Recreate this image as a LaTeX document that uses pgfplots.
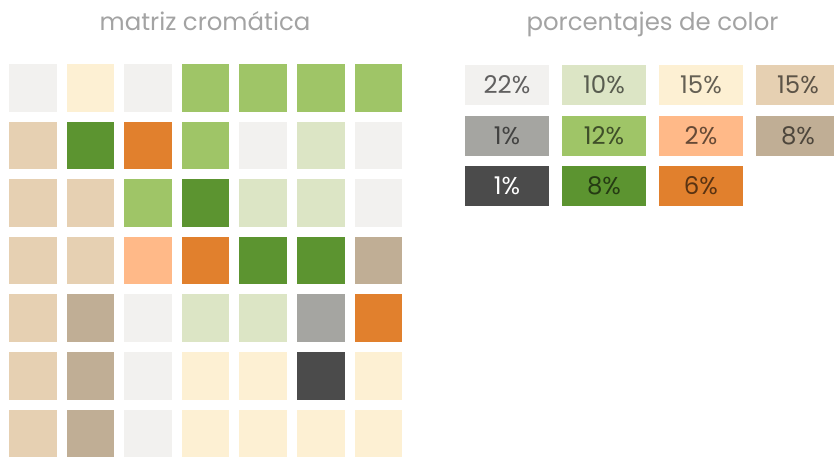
\documentclass[border=0pt]{standalone}
\usepackage{pgfplots}
\pgfplotsset{compat=1.18}
\usepackage{fontspec}
\setmainfont{Poppins}
\definecolor{cGr}{HTML}{F2F1EF}
\definecolor{cCr}{HTML}{FDF0D3}
\definecolor{cLg}{HTML}{9FC567}
\definecolor{cDg}{HTML}{5C9430}
\definecolor{cOr}{HTML}{E1802D}
\definecolor{cTn}{HTML}{E6D0B2}
\definecolor{cPg}{HTML}{DCE5C5}
\definecolor{cPe}{HTML}{FFB988}
\definecolor{cTp}{HTML}{C0AE95}
\definecolor{cMg}{HTML}{A5A5A1}
\definecolor{cDk}{HTML}{4B4B4B}
\definecolor{titlegray}{HTML}{A3A3A3}
\colorlet{tGr}{cGr!40!black}
\colorlet{tCr}{cCr!40!black}
\colorlet{tLg}{cLg!40!black}
\colorlet{tDg}{cDg!40!black}
\colorlet{tOr}{cOr!40!black}
\colorlet{tTn}{cTn!40!black}
\colorlet{tPg}{cPg!40!black}
\colorlet{tPe}{cPe!40!black}
\colorlet{tTp}{cTp!40!black}
\colorlet{tMg}{cMg!40!black}
\colorlet{tDk}{white}
\begin{document}
\begin{tikzpicture}
\path[use as bounding box] (0,0) rectangle (834bp,-457bp);
\node[anchor=base, text=titlegray, font=\fontsize{24.5}{28}\selectfont] at (205bp,-30.5bp) {matriz cromática};
\node[anchor=base, text=titlegray, font=\fontsize{24.5}{28}\selectfont] at (652.5bp,-30.5bp) {porcentajes de color};
\begin{axis}[at={(3.7bp,-58.7bp)}, anchor=north west, scale only axis,
  width=403.2bp, height=403.2bp, xmin=-0.5, xmax=6.5, ymin=-0.5, ymax=6.5,
  y dir=reverse, hide axis, clip=false]
\addplot[scatter, only marks, mark=square*, mark size=23.3bp,
  point meta=explicit symbolic,
  scatter/classes={
    Gr={mark=square*,cGr}, Cr={mark=square*,cCr}, Lg={mark=square*,cLg},
    Dg={mark=square*,cDg}, Or={mark=square*,cOr}, Tn={mark=square*,cTn},
    Pg={mark=square*,cPg}, Pe={mark=square*,cPe}, Tp={mark=square*,cTp},
    Mg={mark=square*,cMg}, Dk={mark=square*,cDk}}]
table[meta=c] {
x y c
0 0 Gr
1 0 Cr
2 0 Gr
3 0 Lg
4 0 Lg
5 0 Lg
6 0 Lg
0 1 Tn
1 1 Dg
2 1 Or
3 1 Lg
4 1 Gr
5 1 Pg
6 1 Gr
0 2 Tn
1 2 Tn
2 2 Lg
3 2 Dg
4 2 Pg
5 2 Pg
6 2 Gr
0 3 Tn
1 3 Tn
2 3 Pe
3 3 Or
4 3 Dg
5 3 Dg
6 3 Tp
0 4 Tn
1 4 Tp
2 4 Gr
3 4 Pg
4 4 Pg
5 4 Mg
6 4 Or
0 5 Tn
1 5 Tp
2 5 Gr
3 5 Cr
4 5 Cr
5 5 Dk
6 5 Cr
0 6 Tn
1 6 Tp
2 6 Gr
3 6 Cr
4 6 Cr
5 6 Cr
6 6 Cr
};
\end{axis}
\begin{axis}[at={(458.5bp,-59.75bp)}, anchor=north west, scale only axis,
  width=388bp, height=151.5bp, xmin=-0.5, xmax=3.5, ymin=-0.5, ymax=2.5,
  y dir=reverse, hide axis, clip=false]
\addplot[only marks, mark=none,
  visualization depends on={value \thisrow{c}\as\cc},
  visualization depends on={value \thisrow{t}\as\tc},
  visualization depends on={value \thisrow{p}\as\pp},
  nodes near coords={\pp\%},
  nodes near coords style={anchor=center, fill=\cc, text=\tc,
    minimum width=84bp, minimum height=40bp, inner sep=0pt,
    font=\fontsize{24.5}{28}\selectfont}]
table {
x y p c t
0 0 22 cGr tGr
1 0 10 cPg tPg
2 0 15 cCr tCr
3 0 15 cTn tTn
0 1 1 cMg tMg
1 1 12 cLg tLg
2 1 2 cPe tPe
3 1 8 cTp tTp
0 2 1 cDk tDk
1 2 8 cDg tDg
2 2 6 cOr tOr
};
\end{axis}
\end{tikzpicture}
\end{document}
